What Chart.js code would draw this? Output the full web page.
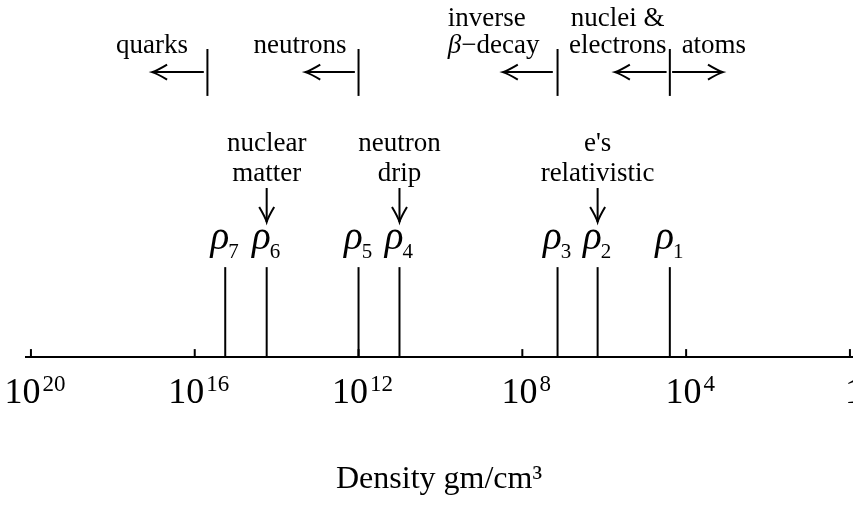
<!DOCTYPE html>
<html>
<head>
<meta charset="utf-8">
<script src="https://cdn.jsdelivr.net/npm/chart.js@4/dist/chart.umd.min.js"></script>
<style>
html, body { margin: 0; padding: 0; background: #fff; }
</style>
</head>
<body>
<canvas id="chart" width="853" height="506"></canvas>
<script>
// densities in gm/cm^3
const rhoIndex = ['1', '2', '3', '4', '5', '6', '7'];
const rhoDensity = [2.5e4, 1.45e6, 1.38e7, 1.0e11, 1.0e12, 1.75e14, 1.8e15];

const tickDensity = [1e20, 1e16, 1e12, 1e8, 1e4, 1];
const tickExponent = ['20', '16', '12', '8', '4', ''];

const phaseText = [['quarks'], ['neutrons'], ['inverse', 'β−decay'], ['nuclei &', 'electrons'], ['atoms']];
const phaseTextAt = [1.1e17, 2.7e13, 6.6e9, 4.7e5, 2.1e3];
const phaseBoundary = [4.9e15, 1.0e12, 1.38e7, 2.5e4];
const arrowFrom = [6.0e15, 1.23e12, 1.8e7, 3.0e4, 2.2e4];
const arrowTo = [1.1e17, 2.0e13, 3.0e8, 5.5e5, 1.26e3];

const markText = [['nuclear', 'matter'], ['neutron', 'drip'], ["e's", 'relativistic']];
const markDensity = [1.75e14, 1.0e11, 1.45e6];

const SERIF = '"Liberation Serif", "Times New Roman", serif';

// heights on the hidden y axis (0..100)
const RHO_TOP = 25.7;
const BOUND_LO = 74.6, BOUND_HI = 88;
const ARROW_Y = 81.4;
const MARK_FROM = 48.3, MARK_TO = 38.6;

function seg(x1, y1, x2, y2) {
    return {
        data: [{x: x1, y: y1}, {x: x2, y: y2}],
        showLine: true,
        borderColor: '#000',
        borderWidth: 2,
        pointRadius: 0
    };
}

let datasets = [];
rhoDensity.forEach(d => datasets.push(seg(d, 0, d, RHO_TOP)));
phaseBoundary.forEach(d => datasets.push(seg(d, BOUND_LO, d, BOUND_HI)));
arrowFrom.forEach((d, i) => datasets.push(seg(d, ARROW_Y, arrowTo[i], ARROW_Y)));
markDensity.forEach(d => datasets.push(seg(d, MARK_FROM, d, MARK_TO)));

function arrowHead(ctx, tx, ty, dx, dy) {
    // open, slightly curved barbs
    let nx = -dy, ny = dx;
    let L = 15, W = 7.5;
    ctx.beginPath();
    ctx.moveTo(tx - L * dx + W * nx, ty - L * dy + W * ny);
    ctx.quadraticCurveTo(tx - 5 * dx + 1.5 * nx, ty - 5 * dy + 1.5 * ny, tx, ty);
    ctx.quadraticCurveTo(tx - 5 * dx - 1.5 * nx, ty - 5 * dy - 1.5 * ny, tx - L * dx - W * nx, ty - L * dy - W * ny);
    ctx.stroke();
}

function textLine(ctx, str, x, y, align) {
    // a leading beta is set in italics
    if (str[0] === 'β') {
        ctx.font = 'italic 27px ' + SERIF;
        let wb = ctx.measureText('β').width;
        ctx.font = '27px ' + SERIF;
        let wr = ctx.measureText(str.slice(1)).width;
        let left = align === 'left' ? x : x - (wb + wr) / 2;
        ctx.textAlign = 'left';
        ctx.font = 'italic 27px ' + SERIF;
        ctx.fillText('β', left, y);
        ctx.font = '27px ' + SERIF;
        ctx.fillText(str.slice(1), left + wb, y);
        return;
    }
    ctx.font = '27px ' + SERIF;
    ctx.textAlign = align;
    ctx.fillText(str, x, y);
}

const annotate = {
    id: 'annotate',
    afterDraw(chart) {
        const ctx = chart.ctx;
        const xs = chart.scales.x, ys = chart.scales.y;
        const px = v => xs.getPixelForValue(v);
        const py = v => ys.getPixelForValue(v);
        const axisY = chart.chartArea.bottom;
        ctx.save();
        ctx.fillStyle = '#000';
        ctx.strokeStyle = '#000';
        ctx.lineWidth = 2;
        ctx.textBaseline = 'alphabetic';

        // tick marks and 10^n labels
        tickDensity.forEach((v, i) => {
            let X = px(v);
            ctx.beginPath();
            ctx.moveTo(X, axisY);
            ctx.lineTo(X, axisY - 8);
            ctx.stroke();
            let base = tickExponent[i] ? '10' : '1';
            ctx.font = '36px ' + SERIF;
            let w1 = ctx.measureText(base).width;
            ctx.font = '23px ' + SERIF;
            let w2 = tickExponent[i] ? ctx.measureText(tickExponent[i]).width + 2 : 0;
            let left = X - (w1 + w2) / 2 + 4;
            ctx.textAlign = 'left';
            ctx.font = '36px ' + SERIF;
            ctx.fillText(base, left, axisY + 46);
            if (tickExponent[i]) {
                ctx.font = '23px ' + SERIF;
                ctx.fillText(tickExponent[i], left + w1 + 2, axisY + 34);
            }
        });

        // rho labels
        rhoDensity.forEach((d, i) => {
            let X = px(d);
            ctx.font = 'italic 39px ' + SERIF;
            let wr = ctx.measureText('ρ').width;
            ctx.font = '21px ' + SERIF;
            let ws = ctx.measureText(rhoIndex[i]).width;
            let left = X - (wr + ws) / 2;
            ctx.textAlign = 'left';
            ctx.font = 'italic 39px ' + SERIF;
            ctx.fillText('ρ', left, py(RHO_TOP) - 18);
            ctx.font = '21px ' + SERIF;
            ctx.fillText(rhoIndex[i], left + wr - 1, py(RHO_TOP) - 9);
        });

        // phase labels and arrows along the top
        phaseText.forEach((lines, i) => {
            let X = px(phaseTextAt[i]);
            let align = i === 2 ? 'left' : 'center';
            if (lines.length === 1) {
                textLine(ctx, lines[0], X, py(86.9), align);
            } else {
                textLine(ctx, lines[0], X, py(94.6), align);
                textLine(ctx, lines[1], X, py(86.9), align);
            }
            let dir = Math.sign(px(arrowTo[i]) - px(arrowFrom[i]));
            arrowHead(ctx, px(arrowTo[i]), py(ARROW_Y), dir, 0);
        });

        // labelled down arrows
        markText.forEach((lines, i) => {
            let X = px(markDensity[i]);
            textLine(ctx, lines[0], X, py(58.9), 'center');
            textLine(ctx, lines[1], X, py(50.3), 'center');
            arrowHead(ctx, X, py(MARK_TO), 0, 1);
        });
        ctx.restore();
    }
};

new Chart(document.getElementById('chart'), {
    type: 'scatter',
    data: { datasets: datasets },
    options: {
        responsive: false,
        animation: false,
        devicePixelRatio: 1,
        layout: { padding: { left: 26, right: 1, top: 7, bottom: 0 } },
        plugins: { legend: { display: false }, tooltip: { enabled: false } },
        scales: {
            x: {
                type: 'logarithmic',
                reverse: true,
                min: 0.89,
                max: 1.32e20,
                afterBuildTicks: s => { s.ticks = tickDensity.map(v => ({ value: v })); },
                ticks: { display: false },
                grid: { display: false, drawTicks: false },
                border: { display: true, color: '#000', width: 2 },
                title: {
                    display: true,
                    text: 'Density gm/cm³',
                    color: '#000',
                    font: { family: SERIF, size: 32 },
                    padding: { top: 103.5, bottom: 7 }
                }
            },
            y: { display: false, min: 0, max: 100 }
        }
    },
    plugins: [annotate]
});
</script>
</body>
</html>
